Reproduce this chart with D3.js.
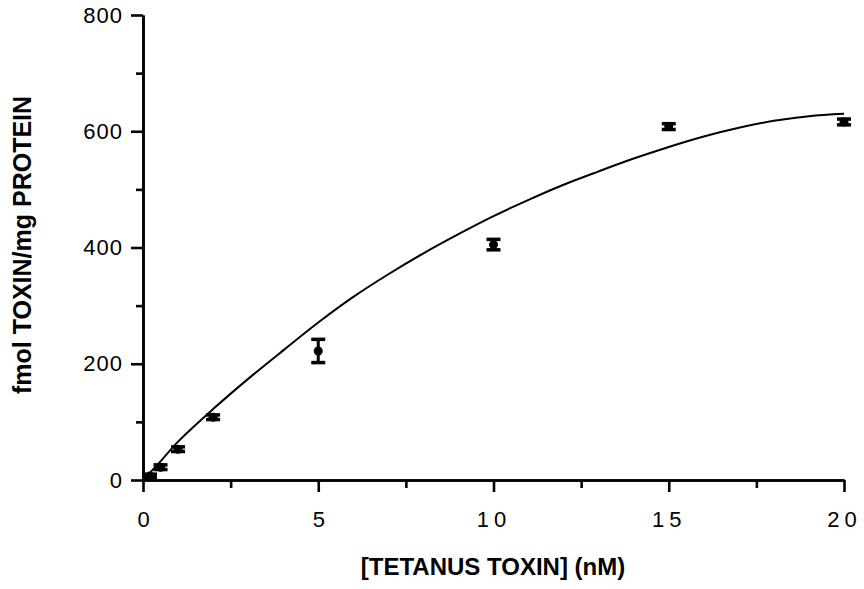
<!DOCTYPE html>
<html>
<head>
<meta charset="utf-8">
<script src="https://cdn.jsdelivr.net/npm/d3@7"></script>
<style>
  html, body { margin: 0; padding: 0; background: #fff; }
  svg { display: block; font-family: "Liberation Sans", Arial, Helvetica, sans-serif; }
</style>
</head>
<body>
<svg id="chart" width="864" height="589"></svg>
<script>
// Binding data: toxin concentration (nM) vs bound toxin (fmol/mg protein)
const concentrations = [0.2, 0.5, 1, 2, 5, 10, 15, 20];
const boundMeans     = [7, 22, 53, 108, 222, 405, 608, 616];
const boundErrors    = [3, 4, 4, 4, 20, 9, 5, 5];

// Fitted saturation curve
const fitX = [0, 0.5, 1, 2, 3, 4, 5, 6, 7, 8, 9, 10, 11, 12, 13, 14, 15, 16, 17, 18, 19, 20];
const fitY = [0, 32, 66, 122, 174, 223, 271, 315, 354, 390, 423, 454, 482, 508, 531, 553, 573, 591, 606, 618, 626, 630];

// Axis ticks
const xMajorTicks = [0, 5, 10, 15, 20];
const xMinorTicks = [2.5, 7.5, 12.5, 17.5];
const yMajorTicks = [0, 200, 400, 600, 800];
const yMinorTicks = [100, 300, 500, 700];

const xTitle = "[TETANUS TOXIN] (nM)";
const yTitle = "fmol TOXIN/mg PROTEIN";

const margin = { top: 15, right: 20, bottom: 109, left: 143 };
const W = 864, H = 589;
const iw = W - margin.left - margin.right;
const ih = H - margin.top - margin.bottom;

const svg = d3.select("#chart");
const g = svg.append("g").attr("transform", `translate(${margin.left},${margin.top})`);

const x = d3.scaleLinear().domain([0, 20]).range([0, iw]);
const y = d3.scaleLinear().domain([0, 800]).range([ih, 0]);

// Axes
function styleAxis(sel) {
  sel.select(".domain").attr("stroke", "#000").attr("stroke-width", 2.6);
  sel.selectAll(".tick line").attr("stroke", "#000").attr("stroke-width", 2.6);
  sel.selectAll("text").attr("fill", "#000");
}

const xMinor = g.append("g").attr("transform", `translate(0,${ih})`)
  .call(d3.axisBottom(x).tickValues(xMinorTicks).tickSize(8).tickSizeOuter(0).tickFormat(""));
styleAxis(xMinor);
const xMajor = g.append("g").attr("transform", `translate(0,${ih})`)
  .call(d3.axisBottom(x).tickValues(xMajorTicks).tickSize(12).tickSizeOuter(0).tickPadding(19)
    .tickFormat(d => d3.format("d")(d)));
styleAxis(xMajor);
xMajor.selectAll("text")
  .attr("font-size", 22)
  .attr("letter-spacing", d => d >= 10 ? "5px" : "0px");

const yMinor = g.append("g")
  .call(d3.axisLeft(y).tickValues(yMinorTicks).tickSize(7).tickSizeOuter(0).tickFormat(""));
styleAxis(yMinor);
const yMajor = g.append("g")
  .call(d3.axisLeft(y).tickValues(yMajorTicks).tickSize(12).tickSizeOuter(0).tickPadding(8)
    .tickFormat(d => d3.format("d")(d)));
styleAxis(yMajor);
yMajor.selectAll("text").attr("font-size", 22).attr("letter-spacing", "1px");

// Fitted curve
const fit = fitX.map((v, i) => [v, fitY[i]]);
g.append("path")
  .datum(fit)
  .attr("fill", "none")
  .attr("stroke", "#000")
  .attr("stroke-width", 2)
  .attr("d", d3.line().x(d => x(d[0])).y(d => y(d[1])).curve(d3.curveCatmullRom));

// Data points with error bars
const pts = concentrations.map((c, i) => ({ c, m: boundMeans[i], e: boundErrors[i] }));
const capW = 14, capH = 3.5;
const pg = g.selectAll("g.pt").data(pts).join("g").attr("class", "pt");
pg.append("line")
  .attr("x1", d => x(d.c)).attr("x2", d => x(d.c))
  .attr("y1", d => y(d.m + d.e)).attr("y2", d => y(d.m - d.e))
  .attr("stroke", "#000").attr("stroke-width", 3);
pg.append("rect")
  .attr("x", d => x(d.c) - capW / 2).attr("width", capW)
  .attr("y", d => y(d.m + d.e) - capH / 2).attr("height", capH)
  .attr("fill", "#000");
pg.append("rect")
  .attr("x", d => x(d.c) - capW / 2).attr("width", capW)
  .attr("y", d => y(d.m - d.e) - capH / 2).attr("height", capH)
  .attr("fill", "#000");
pg.append("circle")
  .attr("cx", d => x(d.c)).attr("cy", d => y(d.m))
  .attr("r", 4.5).attr("fill", "#000");

// Axis titles
svg.append("text")
  .attr("x", 493)
  .attr("y", 575)
  .attr("text-anchor", "middle")
  .attr("font-size", 24)
  .attr("font-weight", "bold")
  .text(xTitle);

svg.append("text")
  .attr("transform", `translate(31,245) rotate(-90)`)
  .attr("text-anchor", "middle")
  .attr("font-size", 25)
  .attr("font-weight", "bold")
  .text(yTitle);
</script>
</body>
</html>
